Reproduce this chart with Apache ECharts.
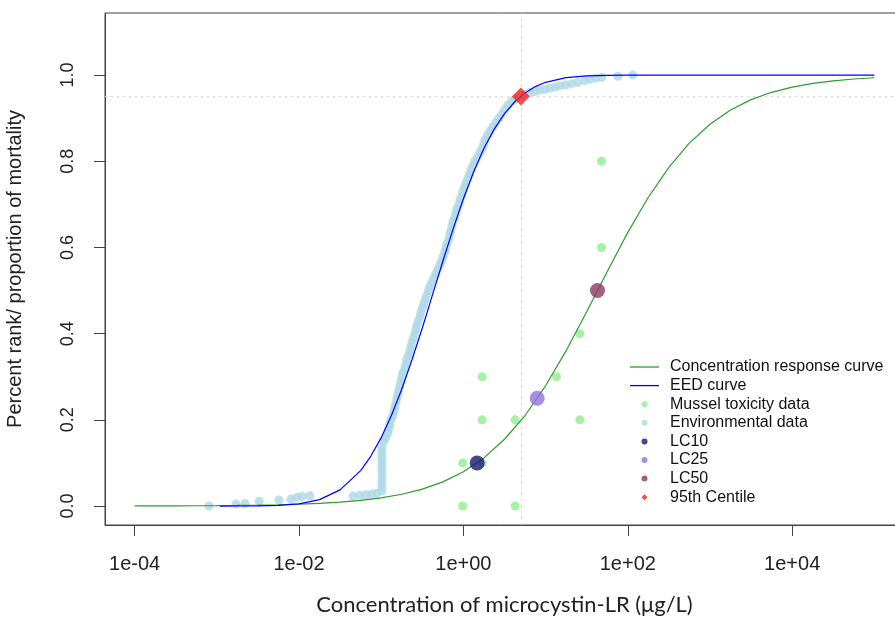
<!DOCTYPE html>
<html><head><meta charset="utf-8">
<script src="https://cdn.jsdelivr.net/npm/echarts@6/dist/echarts.min.js"></script>
<style>html,body{margin:0;padding:0;background:#fff}#c{width:895px;height:617px}</style>
</head><body><div id="c"></div>
<script>
// ---- tick labels ----
const xTickValues = [1e-4, 1e-2, 1, 1e2, 1e4];
const xTickLabels = ['1e-04', '1e-02', '1e+00', '1e+02', '1e+04'];
const yTickValues = [0, 0.2, 0.4, 0.6, 0.8, 1.0];
const yTickLabels = ['0.0', '0.2', '0.4', '0.6', '0.8', '1.0'];

// ---- concentration response curve (green) [conc, proportion] ----
const crcCurve = [
  [1e-4, 0.0002], [1.778e-4, 0.00031], [3.162e-4, 0.00045], [5.623e-4, 0.00066],
  [1e-3, 0.00096], [1.778e-3, 0.0014], [3.162e-3, 0.0020], [5.623e-3, 0.00295],
  [0.01, 0.0043], [0.01778, 0.0062], [0.03162, 0.0090], [0.05623, 0.0131],
  [0.1, 0.0189], [0.1778, 0.0273], [0.3162, 0.0392], [0.5623, 0.0561],
  [1, 0.0796], [1.778, 0.1117], [3.162, 0.155], [5.623, 0.210],
  [10, 0.279], [17.78, 0.3605], [31.62, 0.451], [56.23, 0.544],
  [100, 0.635], [177.8, 0.7165], [316.2, 0.786], [562.3, 0.8426],
  [1000, 0.886], [1778, 0.9188], [3162, 0.943], [5623, 0.960],
  [1e4, 0.972], [17780, 0.9807], [31620, 0.9866], [56230, 0.9908], [1e5, 0.9937]
];

// ---- EED curve (blue) ----
const eedCurve = [
  [0.001096, 0.0], [0.001778, 0.0001], [0.003162, 0.0004], [0.005623, 0.0016],
  [0.01, 0.0052], [0.01778, 0.0149], [0.03162, 0.0375], [0.05623, 0.0821],
  [0.07499, 0.116], [0.1, 0.1587], [0.1334, 0.2105], [0.1778, 0.271],
  [0.2371, 0.3394], [0.3162, 0.413], [0.4217, 0.4907], [0.5623, 0.568],
  [0.7499, 0.643], [1, 0.713], [1.334, 0.7757], [1.778, 0.830],
  [2.371, 0.8746], [3.162, 0.9105], [4.217, 0.9381], [5.623, 0.9586],
  [7.499, 0.9732], [10, 0.9832], [17.78, 0.994], [31.62, 0.9982],
  [56.23, 0.9995], [100, 0.9999], [316.2, 1], [1000, 1], [1e4, 1], [1e5, 1]
];

// ---- mussel toxicity data ----
const musselData = [
  [0.98, 0.0], [0.98, 0.1], [1.69, 0.1], [1.69, 0.2], [1.69, 0.3], [4.26, 0.0],
  [4.26, 0.2], [13.6, 0.3], [26.1, 0.2], [26.1, 0.4], [47.9, 0.6], [47.9, 0.8]
];

// ---- environmental data (percent rank) ----
const envData = [
  [0.000805, 0.000], [0.00171, 0.005], [0.0022, 0.006], [0.00327, 0.011], [0.00571, 0.014],
  [0.0080, 0.016], [0.00946, 0.020], [0.0109, 0.022], [0.0136, 0.024],
  [0.0454, 0.023], [0.0552, 0.025], [0.0653, 0.026], [0.0773, 0.028], [0.0888, 0.030],
  [0.1021, 0.035], [0.1021, 0.045], [0.1021, 0.055], [0.1021, 0.065], [0.1021, 0.075],
  [0.1021, 0.085], [0.1021, 0.095], [0.1021, 0.105], [0.1021, 0.115], [0.1021, 0.125],
  [0.1021, 0.135], [0.108, 0.15], [0.1142, 0.16], [0.1208, 0.17], [0.1242, 0.18],
  [0.1278, 0.19], [0.1314, 0.20], [0.1389, 0.21], [0.1429, 0.22], [0.1469, 0.23],
  [0.1511, 0.24], [0.1554, 0.25], [0.1598, 0.26], [0.1643, 0.27], [0.1690, 0.28],
  [0.1738, 0.29], [0.1788, 0.30], [0.1838, 0.31], [0.1944, 0.32], [0.1999, 0.33],
  [0.2056, 0.34], [0.2144, 0.35], [0.2236, 0.36], [0.2300, 0.37], [0.2365, 0.38],
  [0.2466, 0.39], [0.2572, 0.40], [0.2645, 0.41], [0.2720, 0.42], [0.2837, 0.43],
  [0.2959, 0.44], [0.3043, 0.45], [0.3173, 0.46], [0.3310, 0.47], [0.3451, 0.48],
  [0.3599, 0.49], [0.3754, 0.50], [0.3915, 0.51], [0.4140, 0.52], [0.4379, 0.53],
  [0.4629, 0.54], [0.4898, 0.55], [0.5180, 0.56], [0.5478, 0.57], [0.5712, 0.58],
  [0.5958, 0.59], [0.6126, 0.60], [0.6300, 0.61], [0.6662, 0.62], [0.6852, 0.63],
  [0.7047, 0.64], [0.7247, 0.65], [0.7453, 0.66], [0.7883, 0.67], [0.8105, 0.68],
  [0.8337, 0.69], [0.882, 0.70], [0.9066, 0.71], [0.9590, 0.72], [0.9861, 0.73],
  [1.0285, 0.74], [1.0725, 0.75], [1.134, 0.76], [1.183, 0.77], [1.2337, 0.78],
  [1.305, 0.79], [1.380, 0.80], [1.480, 0.81], [1.587, 0.82], [1.702, 0.83],
  [1.775, 0.84], [1.825, 0.85], [1.958, 0.86], [2.100, 0.87], [2.284, 0.88],
  [2.484, 0.89], [2.702, 0.90], [2.938, 0.91], [3.196, 0.92], [3.475, 0.93],
  [3.889, 0.94], [4.348, 0.945], [4.863, 0.95], [5.594, 0.955], [6.435, 0.96],
  [7.401, 0.962], [8.514, 0.965], [9.793, 0.967], [11.26, 0.97], [12.96, 0.972],
  [14.91, 0.975], [17.63, 0.977], [20.85, 0.98], [24.67, 0.983], [30.01, 0.987],
  [34.51, 0.99], [40.82, 0.993], [48.30, 0.995], [75.56, 0.997], [115.0, 1.0]
];

// ---- effect concentrations ----
const lc10 = [[1.47, 0.10]];
const lc25 = [[7.9, 0.25]];
const lc50 = [[42.8, 0.50]];
const centile95 = [[5.0, 0.95]];

const FONT = 'Liberation Sans, Arial, sans-serif';
const chart = echarts.init(document.getElementById('c'), null, { renderer: 'canvas' });

function xLabel(v) {
  const k = Math.round(Math.log10(v));
  const i = xTickValues.findIndex(t => Math.round(Math.log10(t)) === k);
  return i >= 0 ? xTickLabels[i] : '';
}
function yLabel(v) {
  const i = yTickValues.findIndex(t => Math.abs(t - v) < 1e-6);
  return i >= 0 ? yTickLabels[i] : '';
}
const DIAMOND = 'path://M5,0 L10,5 L5,10 L0,5 Z';
const LINEICON = 'path://M0,0 L29,0 L29,1.3 L0,1.3 Z';

chart.setOption({
  animation: false,
  backgroundColor: '#ffffff',
  grid: { left: 105, top: 13, right: -9, bottom: 92, outerBoundsMode: 'none', containLabel: false,
    show: true, borderColor: '#444', borderWidth: 1 },
  xAxis: {
    type: 'log', logBase: 10,
    min: Math.pow(10, -4.36), max: Math.pow(10, 5.36),
    name: 'Concentration of microcystin-LR (\u03bcg/L)',
    nameLocation: 'middle', nameGap: 69,
    nameTextStyle: { fontFamily: 'Lato, Open Sans, sans-serif', fontSize: 22, color: '#222' },
    axisLine: { show: true, onZero: false, lineStyle: { color: '#444', width: 1 } },
    axisTick: { show: true, customValues: xTickValues, length: 11, lineStyle: { color: '#444' } },
    axisLabel: { customValues: xTickValues, formatter: xLabel, margin: 29,
      fontFamily: FONT, fontSize: 20, color: '#222' },
    splitLine: { show: false }, minorTick: { show: false }
  },
  yAxis: {
    type: 'value', min: -0.044, max: 1.144,
    name: 'Percent rank/ proportion of mortality',
    nameLocation: 'middle', nameGap: 80, nameRotate: 90,
    nameTextStyle: { fontFamily: FONT, fontSize: 20, color: '#222' },
    axisLine: { show: true, onZero: false, lineStyle: { color: '#444', width: 1 } },
    axisTick: { show: true, customValues: yTickValues, length: 11, lineStyle: { color: '#444' } },
    axisLabel: { customValues: yTickValues, formatter: yLabel, rotate: 90, margin: 28,
      fontFamily: FONT, fontSize: 18, color: '#222' },
    splitLine: { show: false }
  },
  legend: {
    orient: 'vertical', left: 625, top: 353, itemWidth: 29, itemHeight: 6, itemGap: 0.6,
    selectedMode: false, symbolKeepAspect: true,
    textStyle: { fontFamily: FONT, fontSize: 16, color: '#111', lineHeight: 18, padding: [0, 0, 0, 6] },
    data: [
      { name: 'Concentration response curve', icon: LINEICON },
      { name: 'EED curve', icon: LINEICON },
      { name: 'Mussel toxicity data', icon: 'circle' },
      { name: 'Environmental data', icon: 'circle' },
      { name: 'LC10', icon: 'circle' },
      { name: 'LC25', icon: 'circle' },
      { name: 'LC50', icon: 'circle' },
      { name: '95th Centile', icon: DIAMOND }
    ]
  },
  series: [
    {
      name: 'Environmental data', type: 'scatter', data: envData, symbol: 'circle', symbolSize: 9,
      itemStyle: { color: '#ADD8E6' }, z: 2,
      markLine: {
        silent: true, symbol: 'none', z: 1, animation: false,
        label: { show: false },
        lineStyle: { type: [2, 4], color: '#d4d4d4', width: 1 },
        data: [{ xAxis: centile95[0][0] }, { yAxis: centile95[0][1] }]
      }
    },
    { name: 'Mussel toxicity data', type: 'scatter', data: musselData, symbol: 'circle', symbolSize: 9,
      itemStyle: { color: '#90EE90' }, z: 2 },
    { name: 'Concentration response curve', type: 'line', data: crcCurve, symbol: 'none',
      showSymbol: false, lineStyle: { color: '#2E9B2E', width: 1.2 },
      itemStyle: { color: '#2E9B2E' }, z: 3 },
    { name: 'EED curve', type: 'line', data: eedCurve, symbol: 'none',
      showSymbol: false, lineStyle: { color: '#0000FF', width: 1.2 },
      itemStyle: { color: '#0000FF' }, z: 3 },
    { name: 'LC10', type: 'scatter', data: lc10, symbolSize: 15, itemStyle: { color: '#191970' }, z: 4 },
    { name: 'LC25', type: 'scatter', data: lc25, symbolSize: 15, itemStyle: { color: '#9370DB' }, z: 4 },
    { name: 'LC50', type: 'scatter', data: lc50, symbolSize: 15, itemStyle: { color: '#8B3A62' }, z: 4 },
    { name: '95th Centile', type: 'scatter', data: centile95, symbol: 'diamond', symbolSize: 18,
      itemStyle: { color: '#F22222' }, z: 5 }
  ]
});
</script></body></html>
